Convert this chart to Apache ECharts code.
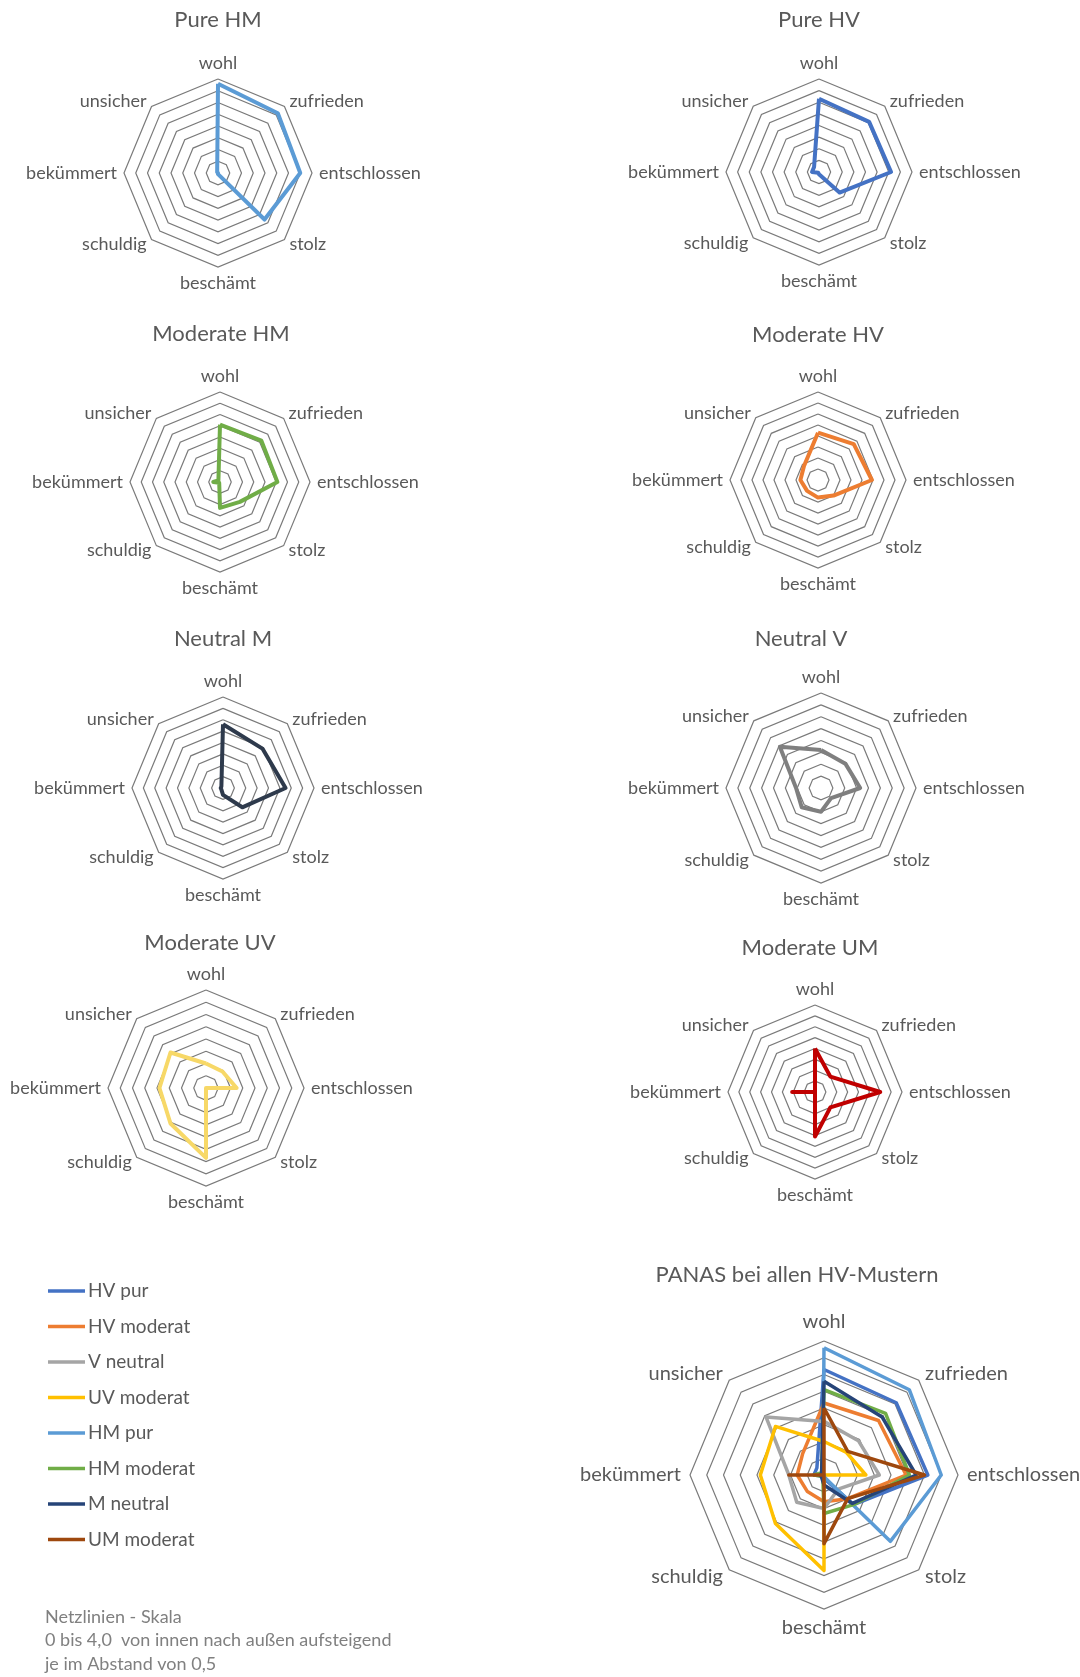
<!DOCTYPE html>
<html><head><meta charset="utf-8">
<script src="https://cdn.jsdelivr.net/npm/echarts@6/dist/echarts.min.js"></script>
<style>html,body{margin:0;padding:0;background:#fff}#c{width:1080px;height:1677px}</style>
</head><body><div id="c"></div>
<script>
// Axis categories (clockwise from top, as in the reference)
const axes = ['wohl','zufrieden','entschlossen','stolz','beschämt','schuldig','bekümmert','unsicher'];
// Scale 0 .. 4.0, grid lines every 0.5
const scaleMin = 0, scaleMax = 4, scaleStep = 0.5;

// Series values, in the order of `axes`
const hvPur      = [3.15, 3.05, 3.10, 1.25, 0.10, 0.05, 0.30, 0.30];
const hvModerat  = [2.15, 2.30, 2.45, 1.00, 0.80, 0.70, 0.80, 0.90];
const vNeutral   = [1.60, 1.45, 1.65, 0.60, 1.00, 1.15, 1.05, 2.45];
const uvModerat  = [1.00, 0.95, 1.25, 0.00, 2.85, 2.05, 1.90, 2.05];
const hmPur      = [3.80, 3.60, 3.50, 2.80, 0.05, 0.00, 0.00, 0.05];
const hmModerat  = [2.55, 2.60, 2.55, 1.25, 1.15, 0.05, 0.30, 0.10];
const mNeutral   = [2.80, 2.45, 2.75, 1.20, 0.30, 0.10, 0.10, 0.10];
const umModerat  = [2.00, 1.00, 3.00, 1.00, 2.05, 0.00, 1.05, 0.00];

// Legend / combined chart names
const seriesNames = ['HV pur','HV moderat','V neutral','UV moderat','HM pur','HM moderat','M neutral','UM moderat'];
const seriesValues = [hvPur, hvModerat, vNeutral, uvModerat, hmPur, hmModerat, mNeutral, umModerat];

const panelTitles = ['Pure HM','Pure HV','Moderate HM','Moderate HV','Neutral M','Neutral V','Moderate UV','Moderate UM'];
const panelValues = [hmPur, hvPur, hmModerat, hvModerat, mNeutral, vNeutral, uvModerat, umModerat];
const combinedTitle = 'PANAS bei allen HV-Mustern';
const noteLines = ['Netzlinien - Skala', '0 bis 4,0  von innen nach außen aufsteigend', 'je im Abstand von 0,5'];

// ---- styling / layout (not data) ----
const panelColors = ['#5B9BD5','#4472C4','#70AD47','#ED7D31','#2E3A4C','#7F7F7F','#F7D867','#C00000'];
const combinedColors = ['#4472C4','#ED7D31','#A5A5A5','#FFC000','#5B9BD5','#70AD47','#264478','#9E480E'];
const panelLayout = [
  {cx:218, cy:173, r:94, tx:218, ty:20},
  {cx:819, cy:172, r:93, tx:819, ty:20},
  {cx:220, cy:482, r:90, tx:221, ty:334},
  {cx:818, cy:480, r:88, tx:818, ty:335},
  {cx:223, cy:788, r:91, tx:223, ty:639},
  {cx:821, cy:788, r:95, tx:801, ty:639},
  {cx:206, cy:1088, r:98, tx:210, ty:943},
  {cx:815, cy:1092, r:87, tx:810, ty:948}
];
const combinedLayout = {cx:824, cy:1475, r:134, tx:797, ty:1275};

const FONT = 'Lato, "Open Sans", sans-serif';
const TXT = '#595959';

// ECharts draws radar indicators counter-clockwise; reorder so the picture runs clockwise.
const order = axes.map((_, i) => i === 0 ? 0 : axes.length - i);
const reorder = arr => order.map(i => arr[i]);

function makeRadar(L, fs, gap) {
  return {
    center: [L.cx, L.cy], radius: L.r, startAngle: 90, shape: 'polygon',
    splitNumber: Math.round((scaleMax - scaleMin) / scaleStep),
    indicator: reorder(axes).map(n => ({name: n, min: scaleMin, max: scaleMax})),
    axisName: {color: TXT, fontSize: fs, fontFamily: FONT},
    nameGap: gap,
    axisLine: {show: false}, axisTick: {show: false}, axisLabel: {show: false},
    splitArea: {show: false},
    splitLine: {lineStyle: {color: '#7a7a7a', width: 1.2}}
  };
}

const radar = [], series = [], graphic = [];
panelLayout.forEach((L, i) => {
  radar.push(makeRadar(L, 18, 7));
  series.push({
    type: 'radar', radarIndex: i, name: panelTitles[i], symbol: 'none', silent: true,
    lineStyle: {color: panelColors[i], width: 4}, itemStyle: {color: panelColors[i]},
    data: [{value: reorder(panelValues[i]), name: panelTitles[i]}]
  });
  graphic.push({type: 'text', x: L.tx, y: L.ty, style: {text: panelTitles[i], fill: TXT,
    font: '22px ' + FONT, textAlign: 'center', textVerticalAlign: 'middle'}});
});
radar.push(makeRadar(combinedLayout, 20, 9));
const ci = radar.length - 1;
seriesNames.forEach((n, k) => {
  series.push({
    type: 'radar', radarIndex: ci, name: n, symbol: 'none', silent: true,
    color: combinedColors[k],
    lineStyle: {color: combinedColors[k], width: 3.5}, itemStyle: {color: combinedColors[k]},
    data: [{value: reorder(seriesValues[k]), name: n}]
  });
});
graphic.push({type: 'text', x: combinedLayout.tx, y: combinedLayout.ty, style: {text: combinedTitle, fill: TXT,
  font: '22px ' + FONT, textAlign: 'center', textVerticalAlign: 'middle'}});
noteLines.forEach((t, i) => {
  graphic.push({type: 'text', x: 45, y: 1617 + i * 23.5, style: {text: t, fill: '#808080',
    font: '18px ' + FONT, textAlign: 'left', textVerticalAlign: 'middle'}});
});

const chart = echarts.init(document.getElementById('c'), null, {renderer: 'canvas'});
chart.setOption({
  animation: false,
  backgroundColor: '#ffffff',
  radar: radar,
  series: series,
  graphic: graphic,
  legend: {
    data: seriesNames.map(n => ({name: n, icon: 'rect'})),
    orient: 'vertical', left: 43, top: 1276,
    itemWidth: 37, itemHeight: 3.5, itemGap: 15.5,
    selectedMode: false,
    textStyle: {color: TXT, fontSize: 19, fontFamily: FONT, lineHeight: 20, padding: [0,0,0,-2]}
  }
});
</script>
</body></html>
